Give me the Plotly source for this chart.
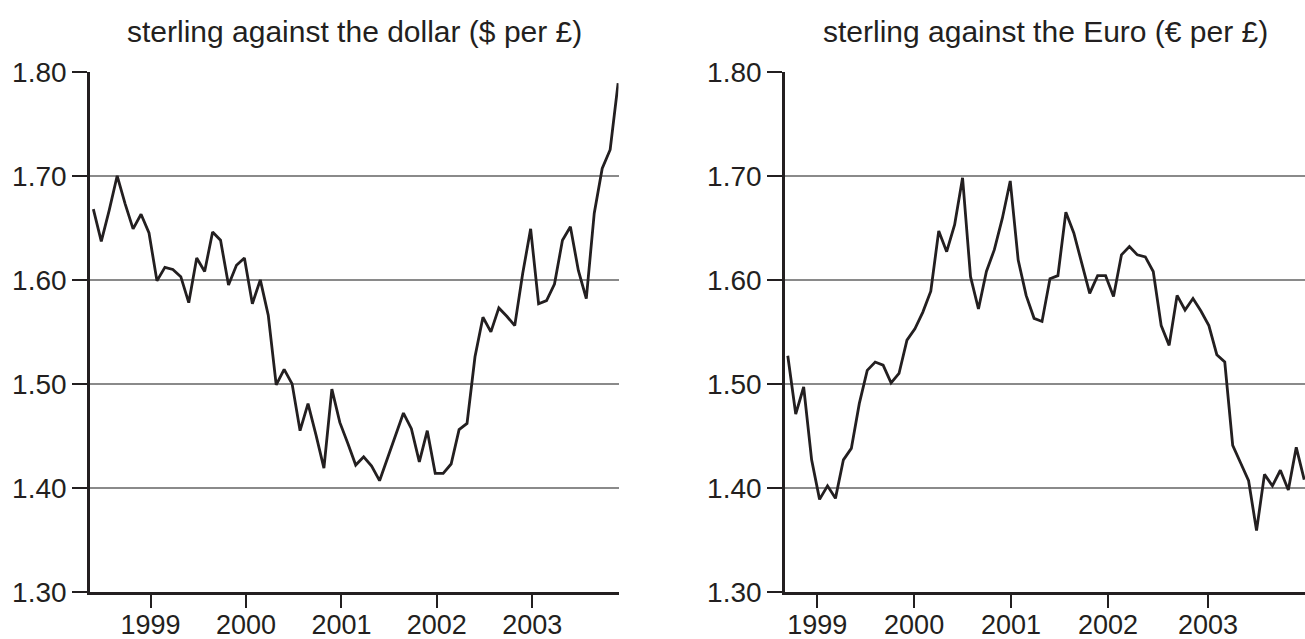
import plotly.graph_objects as go

# ---- data (monthly readings) ----
usd_values = [1.668, 1.637, 1.667, 1.700, 1.673, 1.649, 1.663, 1.645, 1.599, 1.612,
              1.610, 1.603, 1.578, 1.621, 1.608, 1.646, 1.638, 1.595, 1.614, 1.621,
              1.577, 1.600, 1.566, 1.499, 1.514, 1.500, 1.455, 1.481, 1.451, 1.419,
              1.495, 1.463, 1.443, 1.422, 1.430, 1.421, 1.407, 1.429, 1.451, 1.472,
              1.457, 1.425, 1.455, 1.414, 1.414, 1.423, 1.456, 1.462, 1.526, 1.564,
              1.550, 1.573, 1.565, 1.556, 1.606, 1.649, 1.577, 1.580, 1.596, 1.638,
              1.651, 1.609, 1.582, 1.664, 1.707, 1.725, 1.789]

eur_values = [1.527, 1.471, 1.497, 1.427, 1.389, 1.402, 1.390, 1.427, 1.438, 1.481,
              1.513, 1.521, 1.518, 1.501, 1.510, 1.542, 1.553, 1.569, 1.589, 1.647,
              1.627, 1.653, 1.698, 1.603, 1.572, 1.608, 1.629, 1.659, 1.695, 1.619,
              1.585, 1.563, 1.560, 1.601, 1.604, 1.665, 1.645, 1.617, 1.587, 1.604,
              1.604, 1.584, 1.624, 1.632, 1.624, 1.622, 1.608, 1.556, 1.537, 1.585,
              1.571, 1.582, 1.570, 1.556, 1.528, 1.521, 1.441, 1.424, 1.407, 1.359,
              1.413, 1.402, 1.417, 1.398, 1.439, 1.408]

year_labels = ["1999", "2000", "2001", "2002", "2003"]
usd_year_ticks = [7.2, 19.2, 31.2, 43.2, 55.2]     # month index of each year mark
eur_year_ticks = [3.7, 15.9, 28.1, 40.3, 52.9]
y_ticks = [1.30, 1.40, 1.50, 1.60, 1.70, 1.80]
y_tick_labels = ["1.30", "1.40", "1.50", "1.60", "1.70", "1.80"]

titles = ["sterling against the dollar ($ per £)", "sterling against the Euro (€ per £)"]

# ---- figure ----
W, H = 1305, 639
INK = "#231f20"
FONT = "Liberation Sans, Arial, Helvetica, sans-serif"

usd_x = list(range(len(usd_values)))
eur_x = list(range(len(eur_values)))
usd_range = [-0.42, 66.05]
eur_range = [-0.35, 65.1]

fig = go.Figure()
fig.add_trace(go.Scatter(x=usd_x, y=usd_values, mode="lines",
                         line=dict(color=INK, width=2.8), xaxis="x", yaxis="y",
                         showlegend=False, hoverinfo="skip"))
fig.add_trace(go.Scatter(x=eur_x, y=eur_values, mode="lines",
                         line=dict(color=INK, width=2.8), xaxis="x2", yaxis="y2",
                         showlegend=False, hoverinfo="skip"))
# carriers for the long tick-mark overlay axes
fig.add_trace(go.Scatter(x=[usd_x[0]], y=[None], mode="lines", xaxis="x3", yaxis="y",
                         showlegend=False, hoverinfo="skip"))
fig.add_trace(go.Scatter(x=[eur_x[0]], y=[None], mode="lines", xaxis="x4", yaxis="y2",
                         showlegend=False, hoverinfo="skip"))

ydom = [(H - 592) / H, (H - 71.7) / H]
xdom1 = [90 / W, 618.5 / W]
xdom2 = [785 / W, 1.0]

common_x = dict(showgrid=False, zeroline=False, showline=True, linecolor=INK, linewidth=2.6,
                ticks="outside", ticklen=7, tickwidth=2.2, tickcolor=INK,
                tickfont=dict(family=FONT, size=27, color=INK), automargin=False,
                fixedrange=True)
tickmark_x = dict(showgrid=False, zeroline=False, showline=False, showticklabels=False,
                  ticks="outside", ticklen=15, tickwidth=2.2, tickcolor=INK,
                  automargin=False, fixedrange=True, side="bottom")
common_y = dict(range=[1.30, 1.80], tickvals=y_ticks, ticktext=y_tick_labels,
                showgrid=True, gridcolor="#8a8a8a", gridwidth=1.6, zeroline=False,
                showline=True, linecolor=INK, linewidth=2.6,
                ticks="outside", ticklen=15, tickwidth=2.2, tickcolor=INK,
                tickfont=dict(family=FONT, size=28, color=INK), automargin=False,
                domain=ydom, fixedrange=True)

fig.update_layout(
    width=W, height=H,
    margin=dict(l=0, r=0, t=0, b=0),
    paper_bgcolor="white", plot_bgcolor="white",
    xaxis=dict(domain=xdom1, range=usd_range, tickvals=usd_year_ticks,
               ticktext=year_labels, anchor="y", **common_x),
    yaxis=dict(anchor="x", **common_y),
    xaxis2=dict(domain=xdom2, range=eur_range, tickvals=eur_year_ticks,
                ticktext=year_labels, anchor="y2", **common_x),
    yaxis2=dict(anchor="x2", **common_y),
    xaxis3=dict(overlaying="x", anchor="y", domain=xdom1, range=usd_range,
                tickvals=usd_year_ticks, **tickmark_x),
    xaxis4=dict(overlaying="x2", anchor="y2", domain=xdom2, range=eur_range,
                tickvals=eur_year_ticks, **tickmark_x),
    annotations=[
        dict(text=titles[0], x=(xdom1[0] + xdom1[1]) / 2, y=1 - 31 / H, xref="paper",
             yref="paper", showarrow=False, xanchor="center", yanchor="middle",
             font=dict(family=FONT, size=30, color=INK)),
        dict(text=titles[1], x=(xdom2[0] + xdom2[1]) / 2, y=1 - 31 / H, xref="paper",
             yref="paper", showarrow=False, xanchor="center", yanchor="middle",
             font=dict(family=FONT, size=30, color=INK)),
    ],
)

fig.write_html("out.html", config={"displayModeBar": False},
               post_script="document.body.style.margin='0';"
                           "document.body.style.overflow='hidden';")
